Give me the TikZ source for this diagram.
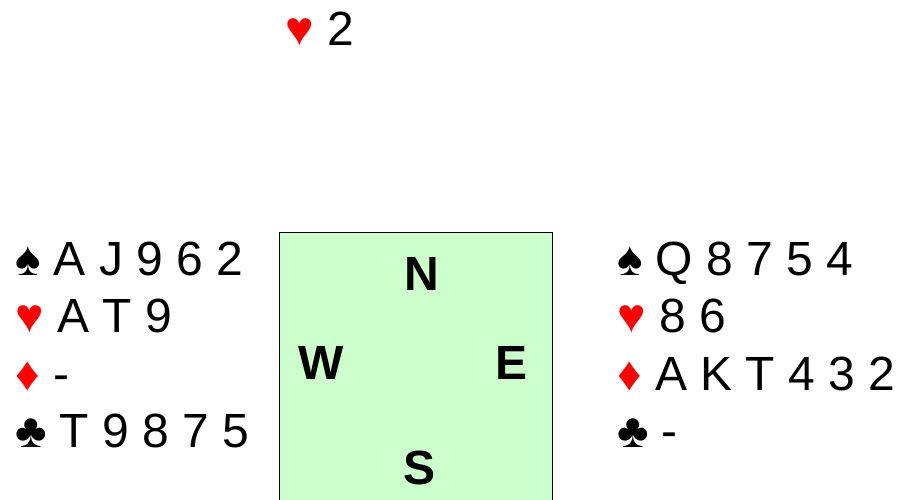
\documentclass[tikz,border=0pt]{standalone}
\usepackage{fontspec}
\setmainfont{Liberation Sans}
\newcommand{\handsize}{48}
\newcommand{\redsuit}[1]{\textcolor{red}{#1}}
\definecolor{tablegreen}{HTML}{CCFFCC}

\begin{document}
\begin{tikzpicture}[x = 1pt, y = -1pt,
  hand/.style = {inner sep = 0pt, anchor = base west, font = \fontsize{\handsize}{\handsize}\selectfont},
  seat/.style = {inner sep = 0pt, anchor = base, font = \fontsize{\handsize}{\handsize}\selectfont\bfseries}]

\useasboundingbox (0,0) rectangle (898,499);

\draw [fill = tablegreen, line width = 1pt] (279,232) rectangle (552,505);

\node [seat] (sn) at (422,290) {N};
\node [seat] (sw) at (321,379) {W};
\node [seat] (se) at (512,379) {E};
\node [seat] (ss) at (420,484) {S};

\node [hand] (n2) at (285,45) {\redsuit{♥} 2};

\node [hand] (w1) at (15,275) {♠ A J 9 6 2};
\node [hand] (w2) at (15,332) {\redsuit{♥} A T 9};
\node [hand] (w3) at (15,390) {\redsuit{♦} -};
\node [hand] (w4) at (15,447) {♣ T 9 8 7 5};

\node [hand] (e1) at (617,275) {♠ Q 8 7 5 4};
\node [hand] (e2) at (617,332) {\redsuit{♥} 8 6};
\node [hand] (e3) at (617,390) {\redsuit{♦} A K T 4 3 2};
\node [hand] (e4) at (617,447) {♣ -};

\end{tikzpicture}
\end{document}
